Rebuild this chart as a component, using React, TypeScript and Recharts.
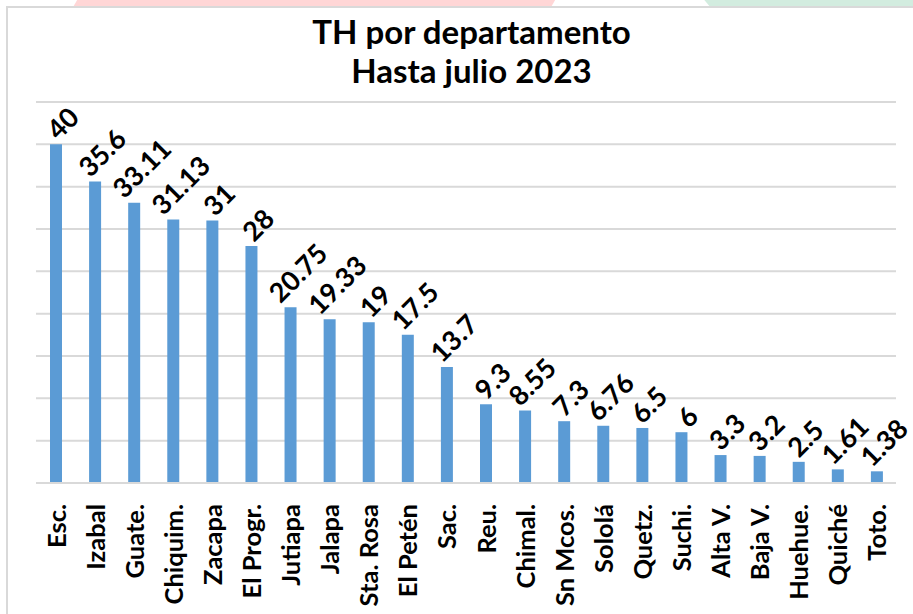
import { BarChart, Bar, XAxis, YAxis, CartesianGrid, LabelList } from "recharts";

// TH por departamento, hasta julio 2023
const departamentos = [
  "Esc.", "Izabal", "Guate.", "Chiquim.", "Zacapa", "El Progr.", "Jutiapa", "Jalapa",
  "Sta. Rosa", "El Petén", "Sac.", "Reu.", "Chimal.", "Sn Mcos.", "Sololá", "Quetz.",
  "Suchi.", "Alta V.", "Baja V.", "Huehue.", "Quiché", "Toto.",
];
const valoresTH = [
  40, 35.6, 33.11, 31.13, 31, 28, 20.75, 19.33, 19, 17.5, 13.7, 9.3, 8.55, 7.3, 6.76,
  6.5, 6, 3.3, 3.2, 2.5, 1.61, 1.38,
];
const yTicks = [0, 5, 10, 15, 20, 25, 30, 35, 40, 45];

const data = departamentos.map((d, i) => ({ depto: d, th: valoresTH[i] }));

const FONT = "Lato, 'Open Sans', sans-serif";
const LABEL_SIZE = 27;

const DeptoTick = ({ x, y, payload }: any) => (
  <text
    x={0}
    y={0}
    transform={`translate(${x + 10}, ${y + 13}) rotate(-90)`}
    textAnchor="end"
    fontFamily={FONT}
    fontWeight={700}
    fontSize={25.5}
    fill="#000"
  >
    {payload.value}
  </text>
);

// rotated label, its bounding box roughly centred over the bar (like Excel)
const ValueLabel = ({ x, y, width, value }: any) => {
  const s = String(value);
  let w = 0;
  for (const ch of s) w += ch === "." ? 0.25 : 0.53;
  w *= LABEL_SIZE;
  const h = 0.7 * LABEL_SIZE;
  const cx = x + width / 2 - 0.354 * (w - h) + 6;
  const cy = y - 3;
  return (
    <text
      x={0}
      y={0}
      transform={`translate(${cx}, ${cy}) rotate(-45)`}
      textAnchor="start"
      fontFamily={FONT}
      fontWeight={700}
      fontSize={LABEL_SIZE}
      fill="#000"
    >
      {value}
    </text>
  );
};

export default function App() {
  return (
    <div
      style={{
        position: "absolute",
        left: 0,
        top: 0,
        width: 913,
        height: 614,
        overflow: "hidden",
        background: "#fff",
        fontFamily: FONT,
      }}
    >
      {/* decorative background shapes peeking above the frame */}
      <div
        style={{
          position: "absolute",
          left: 76,
          top: -4,
          width: 478,
          height: 12,
          background: "#ffd6d6",
          transform: "skewX(-30deg)",
        }}
      />
      <div
        style={{
          position: "absolute",
          left: 706,
          top: -4,
          width: 230,
          height: 12,
          background: "#d2ecdf",
          transform: "skewX(40deg)",
        }}
      />
      <div
        style={{
          position: "absolute",
          left: 6,
          top: 6,
          width: 940,
          height: 640,
          border: "2px solid #d9d9d9",
          background: "#fff",
        }}
      />
      <div
        style={{
          position: "absolute",
          left: 0,
          width: 943,
          top: 12,
          textAlign: "center",
          fontWeight: 700,
          fontSize: 33,
          lineHeight: "39px",
          color: "#000",
        }}
      >
        TH por departamento
        <br />
        Hasta julio 2023
      </div>
      <div style={{ position: "absolute", left: 0, top: 0 }}>
        <BarChart
          width={913}
          height={614}
          data={data}
          margin={{ top: 102, right: 17, left: 36, bottom: 0 }}
        >
          <CartesianGrid vertical={false} stroke="#d9d9d9" strokeWidth={2} />
          <XAxis
            dataKey="depto"
            interval={0}
            height={131}
            tickLine={false}
            axisLine={{ stroke: "#d9d9d9", strokeWidth: 2 }}
            tick={<DeptoTick />}
          />
          <YAxis hide domain={[0, 45]} ticks={yTicks} />
          <Bar dataKey="th" fill="#5b9bd5" barSize={12} isAnimationActive={false}>
            <LabelList dataKey="th" content={<ValueLabel />} />
          </Bar>
        </BarChart>
      </div>
    </div>
  );
}
